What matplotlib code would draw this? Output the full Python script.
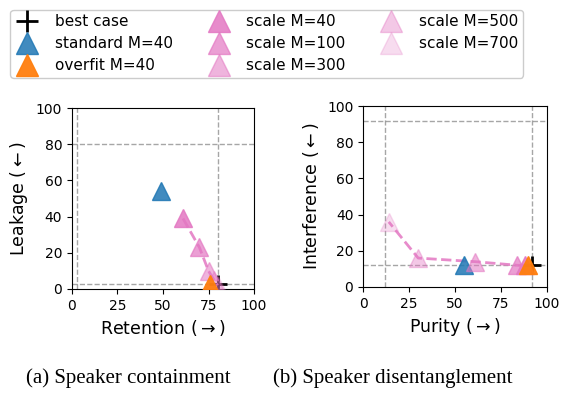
import matplotlib
matplotlib.use('Agg')
import matplotlib.pyplot as plt

# left panel: speaker containment (retention, leakage)
best_a = (80, 3)
standard_a = (49, 54)
overfit_a = (76, 3)
scale_M = [40, 100, 300, 500, 700]
scale_ret = [61, 70, 75, 78, 80]
scale_leak = [39, 23, 10, 5, 2]
bounds_a_x = [3, 80]
bounds_a_y = [3, 80]

# right panel: speaker disentanglement (purity, interference)
best_b = (92, 12)
standard_b = (55, 12)
overfit_b = (90, 12)
scale_pur = [88, 84, 61, 30, 14]
scale_int = [12, 12, 14, 16, 36]
bounds_b_x = [12, 92]
bounds_b_y = [12, 92]

ticks = [0, 25, 50, 75, 100]
alphas = [0.85, 0.7, 0.55, 0.4, 0.25]
pink = '#e377c2'
ms = 12.5

fig = plt.figure(figsize=(5.62, 3.94), dpi=100)
ax1 = fig.add_axes([0.128, 0.2665, 0.324, 0.459])
ax2 = fig.add_axes([0.646, 0.2716, 0.327, 0.459])


def panel(ax, best, std, ovf, xs, ys, bx, by, xlabel, ylabel):
    for v in bx:
        ax.axvline(v, color='gray', ls='--', lw=1, alpha=0.7, zorder=1)
    for v in by:
        ax.axhline(v, color='gray', ls='--', lw=1, alpha=0.7, zorder=1)
    ax.plot(*best, marker='+', color='black', ms=ms, mew=2, ls='none',
            label='best case', zorder=2)
    ax.plot(*std, marker='^', color='#1f77b4', alpha=0.85, ms=ms, ls='none',
            label='standard M=40', zorder=3)
    ax.plot(xs, ys, ls='--', color=pink, lw=2, alpha=0.85, zorder=2)
    for x, y, m, a in zip(xs, ys, scale_M, alphas):
        ax.plot(x, y, marker='^', color=pink, alpha=a, ms=ms, ls='none',
                label='scale M=%d' % m, zorder=3)
    ax.plot(*ovf, marker='^', color='#ff7f0e', alpha=0.95, ms=ms, ls='none',
            label='overfit M=40', zorder=4)
    ax.set_xlim(0, 100)
    ax.set_ylim(0, 100)
    ax.set_xticks(ticks)
    ax.tick_params(labelsize=10)
    ax.set_xlabel(xlabel, fontsize=12.5)
    ax.set_ylabel(ylabel, fontsize=12.5)


panel(ax1, best_a, standard_a, overfit_a, scale_ret, scale_leak,
      bounds_a_x, bounds_a_y, r'Retention ($\rightarrow$)', r'Leakage ($\leftarrow$)')
panel(ax2, best_b, standard_b, overfit_b, scale_pur, scale_int,
      bounds_b_x, bounds_b_y, r'Purity ($\rightarrow$)', r'Interference ($\leftarrow$)')

handles, labels = ax1.get_legend_handles_labels()
order = ['best case', 'standard M=40', 'overfit M=40',
         'scale M=40', 'scale M=100', 'scale M=300',
         'scale M=500', 'scale M=700']
h = [handles[labels.index(l)] for l in order]
fig.legend(h, order, ncol=3, loc='upper left', bbox_to_anchor=(0.005, 0.995),
           fontsize=11, markerscale=1.3, framealpha=1, edgecolor='#cccccc',
           handletextpad=1.0, columnspacing=2.2, labelspacing=0.45,
           borderpad=0.3, handlelength=1.6)

fig.text(0.228, 0.028, '(a) Speaker containment', family='Liberation Serif',
         fontsize=15, ha='center', va='baseline')
fig.text(0.486, 0.028, '(b) Speaker disentanglement',
         family='Liberation Serif', fontsize=15, ha='left', va='baseline')

fig.savefig('out.png', dpi=100)
